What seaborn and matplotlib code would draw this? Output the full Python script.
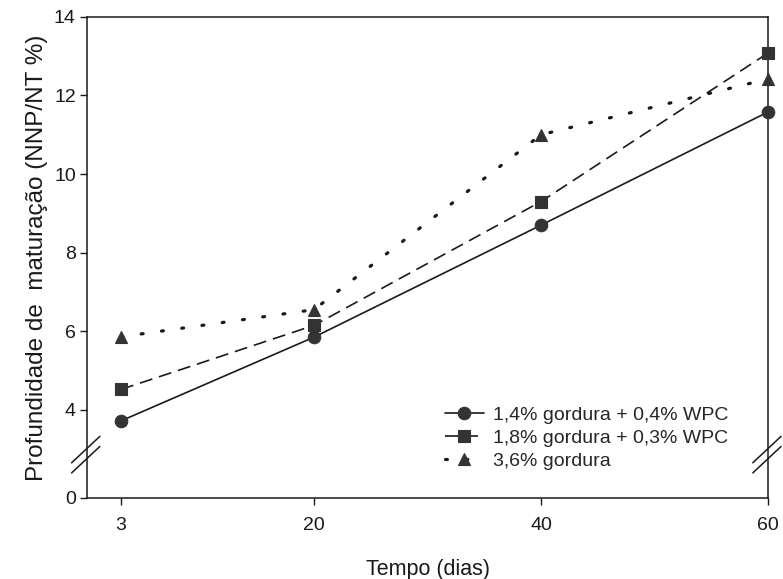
import numpy as np
import pandas as pd
import matplotlib
matplotlib.use("Agg")
import matplotlib.pyplot as plt
import seaborn as sns

# Data
dias = [3, 20, 40, 60]
gord14_wpc04 = [3.72, 5.85, 8.70, 11.58]
gord18_wpc03 = [4.52, 6.15, 9.30, 13.08]
gord36 = [5.86, 6.55, 11.00, 12.42]

serie_labels = ["1,4% gordura + 0,4% WPC", "1,8% gordura + 0,3% WPC", "3,6% gordura"]
y_ticks = [4, 6, 8, 10, 12, 14]
x_ticks = [3, 20, 40, 60]

# broken axis: the "0" tick sits just below the break
y_floor = 1.76

sns.set_theme(style="white")
plt.rcParams["font.family"] = ["Liberation Sans", "DejaVu Sans"]

fig = plt.figure(figsize=(7.83, 5.79), dpi=100)
ax = fig.add_axes([0.111, 0.140, 0.870, 0.831])

ink = "#1a1a1a"
mk = "#333333"
styles = [
    dict(marker="o", linestyle="-"),
    dict(marker="s", linestyle=(0, (7.8, 4.2))),
    dict(marker="^", linestyle=(0, (0.6, 5.8)), dash_capstyle="round"),
]
lws = [1.2, 1.2, 2.3]

for vals, lab, st, lw in zip([gord14_wpc04, gord18_wpc03, gord36], serie_labels, styles, lws):
    df = pd.DataFrame({"Tempo": dias, "valor": vals})
    sns.lineplot(data=df, x="Tempo", y="valor", ax=ax, color=ink, lw=lw,
                 markersize=9, markerfacecolor=mk, markeredgecolor=mk,
                 markeredgewidth=0.8, label=lab, clip_on=False, zorder=3, **st)

ax.set_xlim(0, 60)
ax.set_ylim(y_floor, 14)
ax.set_xticks(x_ticks)
ax.set_xticklabels([str(t) for t in x_ticks])
ax.set_yticks([y_floor] + y_ticks)
ax.set_yticklabels(["0"] + [str(t) for t in y_ticks])

for s in ax.spines.values():
    s.set_color(ink)
    s.set_linewidth(1.1)
ax.tick_params(axis="both", which="major", direction="out", length=5, width=1.0,
               color=ink, labelsize=14, labelcolor=ink, pad=3,
               bottom=True, left=True, top=False, right=False)
ax.tick_params(axis="x", pad=9)

ax.set_xlabel("Tempo (dias)", fontsize=15.5, color=ink, labelpad=18)
ax.set_ylabel("Profundidade de  maturação (NNP/NT %)", fontsize=17.5, color=ink, labelpad=4)

# axis break marks (left and right spines)
for x0 in (0.0, 1.0):
    for yb in (0.052, 0.073):
        ax.plot([x0 - 0.0225, x0 + 0.019], [yb, yb + 0.055], transform=ax.transAxes,
                color=ink, lw=1.1, clip_on=False, zorder=4)

ax.legend(loc="upper left", bbox_to_anchor=(0.551, 0.322), bbox_transform=fig.transFigure,
          frameon=False, fontsize=14, handlelength=2.0, handletextpad=0.45,
          labelspacing=0.28, borderpad=0.2)

fig.savefig("out.png", dpi=100, facecolor="white")
